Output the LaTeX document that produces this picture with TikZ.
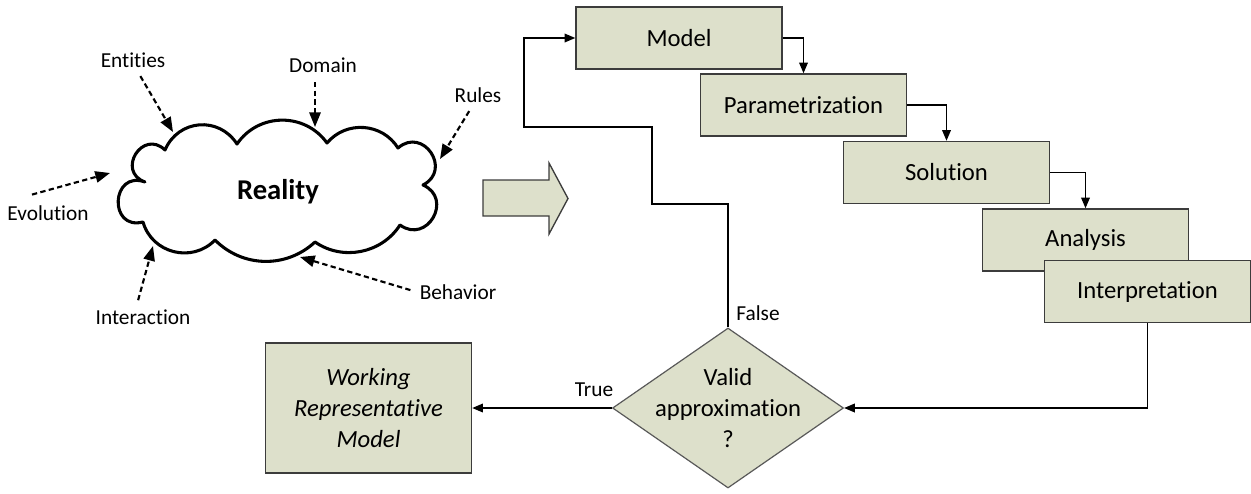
\documentclass[tikz,border=0pt]{standalone}
\usepackage{fontspec}
\setmainfont{Carlito}[Ligatures=NoCommon]
\usetikzlibrary{shapes.geometric,arrows.meta}
\definecolor{boxfill}{RGB}{221,224,203}
\definecolor{boxline}{RGB}{60,60,60}

\begin{document}
\begin{tikzpicture}[x=0.75pt,y=-0.75pt,
  stage/.style={draw=boxline,line width=1.1pt,fill=boxfill,minimum width=154.5pt,
    minimum height=46.5pt,inner sep=0pt,font=\fontsize{18.5}{23.6}\selectfont},
  flow/.style={line width=1pt,-{Triangle[length=8pt,width=6.5pt]}},
  hint/.style={font=\fontsize{16}{19}\selectfont,inner sep=2pt},
  feed/.style={line width=1.6pt,dash pattern=on 4pt off 2.5pt,
    -{Triangle[length=11pt,width=8.5pt]},shorten <=5pt},
  puff/.style 2 args={bend left=#1,looseness=#2},
]
\path[use as bounding box] (0,0) rectangle (1251,493);

% the cloud of reality: one arc per puff, between the dents
\coordinate (c1) at (165,150);
\coordinate (c2) at (237,144);
\coordinate (c3) at (327,143);
\coordinate (c4) at (398,148);
\coordinate (c5) at (423,185);
\coordinate (c6) at (400,225);
\coordinate (c7) at (315,242);
\coordinate (c8) at (215,240);
\coordinate (c9) at (143,222);
\coordinate (c10) at (145,182);
\draw[line width=2.3pt,line join=round,fill=white]
  (c1) to[puff={62}{1.19}] (c2) to[puff={55}{1.08}] (c3)
       to[puff={54}{1.07}] (c4) to[puff={97}{1.9}] (c5)
       to[puff={96}{1.86}] (c6) to[puff={46}{1.0}] (c7)
       to[puff={44}{1.0}] (c8) to[puff={60}{1.13}] (c9)
       to[puff={107}{2.3}] (c10) to[puff={102}{2.1}] cycle;
\node[font=\bfseries\fontsize{21.5}{26}\selectfont] (reality) at (278,192) {Reality};

% where the influences touch the cloud
\coordinate (etip) at (173,132);
\coordinate (dtip) at (315,127);
\coordinate (rtip) at (440,159);
\coordinate (vtip) at (110,173);
\coordinate (itip) at (153,246);
\coordinate (btip) at (300,257);

\node[hint] (ent) at (133,60) {Entities};
\node[hint] (dom) at (323,65) {Domain};
\node[hint] (rul) at (478,95) {Rules};
\node[hint] (evo) at (48,213) {Evolution};
\node[hint] (int) at (143,317) {Interaction};
\node[hint] (beh) at (458,292) {Behavior};

\draw[feed] ([xshift=3pt]ent.south) -- (etip);
\draw[feed] (dom.south -| dtip) -- (dtip);
\draw[feed] ([xshift=-4pt]rul.south) -- (rtip);
\draw[feed,shorten <=0pt] ([shift={(-16,-8)}]evo.north) -- (vtip);
\draw[feed] ([xshift=-5pt]int.north) -- (itip);
\draw[feed] (beh.west) -- (btip);

% block arrow
\draw[draw=boxline,line width=1pt,fill=boxfill]
  (483,180) -- (549,180) -- (549,163) -- (568,198.5) -- (549,234) -- (549,216) -- (483,216) -- cycle;

% modelling stages
\node[stage] (model) at (679,38) {Model};
\node[stage] (param) at (803.5,105) {Parametrization};
\node[stage] (sol) at (946.5,172.5) {Solution};
\node[stage] (ana) at (1085.5,240) {Analysis};
\node[stage] (interp) at (1147.5,291.5) {Interpretation};

\node[stage,minimum height=97.5pt,align=center,
  font=\fontsize{18.5}{23.6}\selectfont\itshape] (work) at (368.5,408)
  {Working\\Representative\\Model};

\node[diamond,draw=boxline!85,line width=0.9pt,fill=boxfill,minimum width=173.25pt,
  minimum height=120pt,inner sep=0pt] (valid) at (728,408) {};
\node[align=center,inner sep=0pt,font=\fontsize{18.5}{23.6}\selectfont] (validtxt)
  at (valid) {Valid\\approximation\\?};

% connectors
\draw[flow] (model.east) -| (param.north);
\draw[flow] (param.east) -| (sol.north);
\draw[flow] (sol.east) -| (ana.north);
\draw[flow] (interp.south) |- (valid.east);
\draw[flow] (valid.west) -- (work.east);

\coordinate (f1) at (652,204);
\coordinate (f2) at (524,127);
\draw[flow] (valid.north) |- (f1) |- (f2) |- (model.west);

\node[hint] (truel) at (594,390) {True};
\node[hint] (falsel) at (758,313) {False};
\end{tikzpicture}
\end{document}
